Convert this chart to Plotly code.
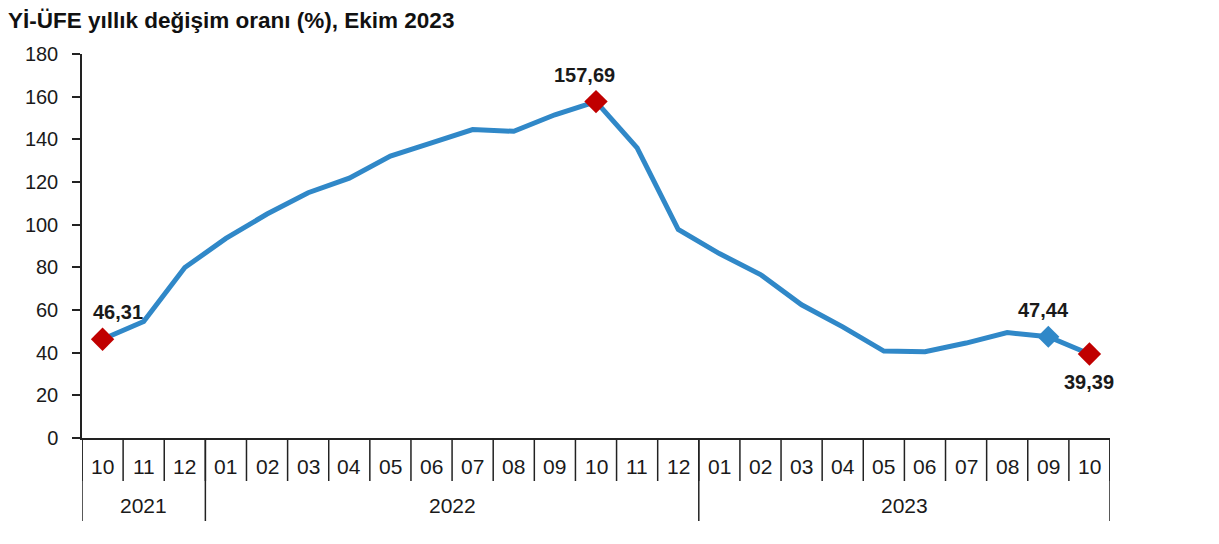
import plotly.graph_objects as go

months = ["10", "11", "12", "01", "02", "03", "04", "05", "06", "07", "08", "09",
          "10", "11", "12", "01", "02", "03", "04", "05", "06", "07", "08", "09", "10"]
years = ["2021", "2022", "2023"]
year_counts = [3, 12, 10]
values = [46.31, 54.62, 79.89, 93.53, 105.01, 114.97, 121.82, 132.16, 138.31, 144.61,
          143.75, 151.50, 157.69, 136.02, 97.72, 86.46, 76.61, 62.43, 52.11, 40.76,
          40.42, 44.50, 49.41, 47.44, 39.39]
highlight_red = [0, 12, 24]
highlight_blue = [23]
label_idx = [0, 12, 23, 24]
label_pos = ["above", "above", "above", "below"]
label_dx = [15, -12, -5, 0]

FONT = "Liberation Sans, Arial"
x = list(range(len(months)))
fig = go.Figure()
fig.add_trace(go.Scatter(x=x, y=values, mode="lines",
                         line=dict(color="#3088C8", width=5), hoverinfo="skip"))
fig.add_trace(go.Scatter(x=highlight_blue, y=[values[i] for i in highlight_blue], mode="markers",
                         marker=dict(symbol="diamond", size=17, color="#3088C8")))
fig.add_trace(go.Scatter(x=highlight_red, y=[values[i] for i in highlight_red], mode="markers",
                         marker=dict(symbol="diamond", size=18, color="#C00000")))

def fmt(v):
    return f"{v:.2f}".replace(".", ",")

for i, pos, dx in zip(label_idx, label_pos, label_dx):
    fig.add_annotation(x=i, y=values[i], text=f"<b>{fmt(values[i])}</b>", showarrow=False,
                       yshift=27 if pos == "above" else -28, xshift=dx,
                       font=dict(family=FONT, size=20, color="#1a1a1a"))

# plot geometry in reference pixels: top 54, bottom 438 -> height 384
H = 384.0
def py(pix):
    return (438 - pix) / H

line = dict(color="#222", width=1.5)
for k in range(len(months) + 1):
    xpos = k - 0.5
    fig.add_shape(type="line", xref="x", yref="paper", x0=xpos, x1=xpos, y0=0, y1=py(481), line=line)
bounds = [0]
for c in year_counts:
    bounds.append(bounds[-1] + c)
for b in bounds:
    fig.add_shape(type="line", xref="x", yref="paper", x0=b - 0.5, x1=b - 0.5, y0=0, y1=py(521), line=line)

for i, m in enumerate(months):
    fig.add_annotation(x=i, y=py(466), xref="x", yref="paper", text=m, showarrow=False,
                       yanchor="middle", xanchor="center",
                       font=dict(family=FONT, size=21, color="#1a1a1a"))
for yi, yr in enumerate(years):
    cx = (bounds[yi] + bounds[yi + 1] - 1) / 2
    fig.add_annotation(x=cx, y=py(505), xref="x", yref="paper", text=yr, showarrow=False,
                       yanchor="middle", xanchor="center",
                       font=dict(family=FONT, size=21, color="#1a1a1a"))

# page body has an 8px margin; figure sized/offset to land plot area where the reference has it
fig.update_layout(
    width=1203, height=528,
    margin=dict(l=74, r=101, t=46, b=98),
    plot_bgcolor="white", paper_bgcolor="white",
    showlegend=False,
    title=dict(text="<b>Yİ-ÜFE yıllık değişim oranı (%), Ekim 2023</b>", x=0, xanchor="left",
               y=1 - 12 / 528, yanchor="middle",
               font=dict(family=FONT, size=22.5, color="#111")),
    xaxis=dict(range=[-0.5, len(months) - 0.5], showticklabels=False, showgrid=False,
               zeroline=False, showline=True, linecolor="#222", linewidth=1.5, ticks=""),
    yaxis=dict(range=[0, 180], tickvals=list(range(0, 181, 20)), showgrid=False, zeroline=False,
               showline=True, linecolor="#222", linewidth=1.5, ticks="outside", ticklen=8,
               tickcolor="#222", tickwidth=1.5, ticklabelstandoff=10, automargin=False,
               tickfont=dict(family=FONT, size=20, color="#1a1a1a")),
)
fig.write_html("out.html")
